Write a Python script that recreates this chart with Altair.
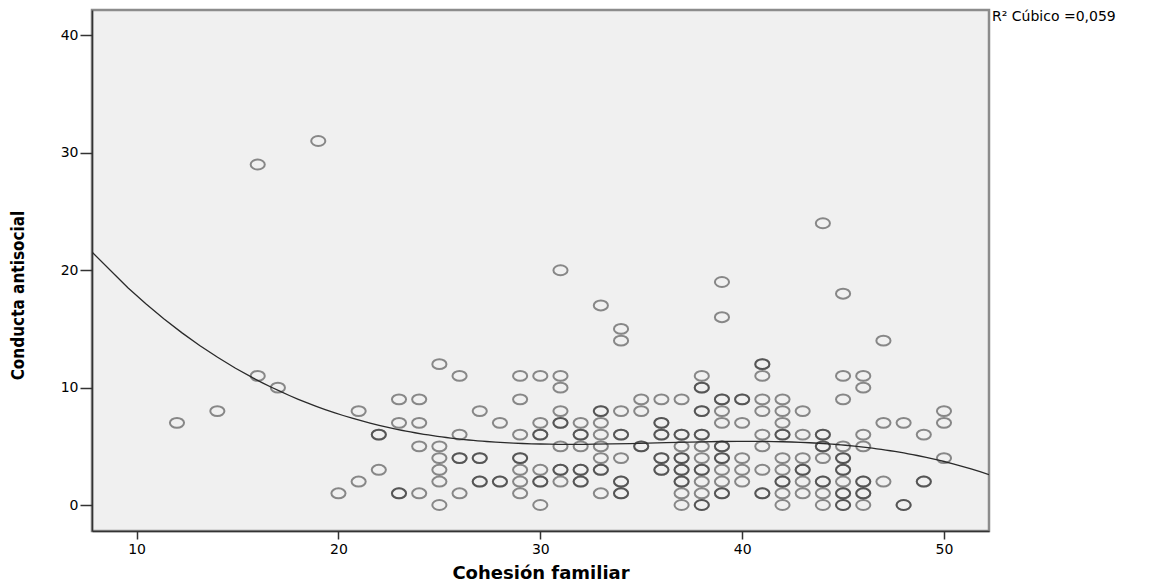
import altair as alt
import pandas as pd

# ---- data ----
cohesion = [
    12,
    14,
    16, 16,
    17,
    19,
    20,
    21, 21,
    22, 22, 22,
    23, 23, 23, 23,
    24, 24, 24, 24,
    25, 25, 25, 25, 25, 25,
    26, 26, 26, 26, 26,
    27, 27, 27, 27, 27,
    28, 28, 28,
    29, 29, 29, 29, 29, 29, 29, 29,
    30, 30, 30, 30, 30, 30, 30, 30,
    31, 31, 31, 31, 31, 31, 31, 31, 31, 31,
    32, 32, 32, 32, 32, 32, 32, 32,
    33, 33, 33, 33, 33, 33, 33, 33, 33, 33,
    34, 34, 34, 34, 34, 34, 34, 34, 34, 34,
    35, 35, 35, 35,
    36, 36, 36, 36, 36, 36, 36, 36, 36,
    37, 37, 37, 37, 37, 37, 37, 37, 37, 37, 37, 37,
    38, 38, 38, 38, 38, 38, 38, 38, 38, 38, 38, 38, 38, 38, 38,
    39, 39, 39, 39, 39, 39, 39, 39, 39, 39, 39, 39, 39, 39,
    40, 40, 40, 40, 40, 40,
    41, 41, 41, 41, 41, 41, 41, 41, 41, 41,
    42, 42, 42, 42, 42, 42, 42, 42, 42, 42, 42,
    43, 43, 43, 43, 43, 43, 43,
    44, 44, 44, 44, 44, 44, 44, 44, 44, 44,
    45, 45, 45, 45, 45, 45, 45, 45, 45, 45, 45, 45, 45,
    46, 46, 46, 46, 46, 46, 46, 46, 46,
    47, 47, 47,
    48, 48, 48,
    49, 49, 49,
    50, 50, 50,
]
conducta = [
    7,
    8,
    29, 11,
    10,
    31,
    1,
    8, 2,
    6, 6, 3,
    9, 7, 1, 1,
    9, 7, 5, 1,
    12, 5, 4, 3, 2, 0,
    11, 6, 4, 4, 1,
    8, 4, 4, 2, 2,
    7, 2, 2,
    11, 9, 6, 4, 4, 3, 2, 1,
    11, 7, 6, 6, 3, 2, 2, 0,
    20, 11, 10, 8, 7, 7, 5, 3, 3, 2,
    7, 6, 6, 5, 3, 3, 2, 2,
    17, 8, 8, 7, 6, 5, 4, 3, 3, 1,
    15, 14, 8, 6, 6, 4, 2, 2, 1, 1,
    9, 8, 5, 5,
    9, 7, 7, 6, 6, 4, 4, 3, 3,
    9, 6, 6, 5, 4, 4, 3, 3, 2, 2, 1, 0,
    11, 10, 10, 8, 8, 6, 6, 5, 4, 3, 3, 2, 1, 0, 0,
    19, 16, 9, 9, 8, 7, 5, 5, 4, 4, 3, 2, 1, 1,
    9, 9, 7, 4, 3, 2,
    12, 12, 11, 9, 8, 6, 5, 3, 1, 1,
    9, 8, 7, 6, 6, 4, 3, 2, 2, 1, 0,
    8, 6, 4, 3, 3, 2, 1,
    24, 6, 6, 5, 5, 4, 2, 2, 1, 0,
    18, 11, 9, 5, 4, 4, 3, 3, 2, 1, 1, 0, 0,
    11, 10, 6, 5, 2, 2, 1, 1, 0,
    14, 7, 2,
    7, 0, 0,
    6, 2, 2,
    8, 7, 4,
]
assert len(cohesion) == len(conducta)

x_ticks = [10, 20, 30, 40, 50]
y_ticks = [0, 10, 20, 30, 40]
x_domain = [7.79, 52.23]
y_domain = [-2.21, 42.16]
x_title = "Cohesión familiar"
y_title = "Conducta antisocial"
fit_label = ["R² Cúbico =0,059"]

df = pd.DataFrame({"cohesion": cohesion, "conducta": conducta})

ELLIPSE = "M-1,0A1,0.7,0,1,1,1,0A1,0.7,0,1,1,-1,0Z"

xscale = alt.Scale(domain=x_domain, nice=False, zero=False)
yscale = alt.Scale(domain=y_domain, nice=False, zero=False)

x_enc = alt.X(
    "cohesion:Q", scale=xscale,
    axis=alt.Axis(values=x_ticks, title=x_title, grid=False, tickSize=8,
                  labelPadding=3, titlePadding=8, format="d",
                  titleFontSize=18),
)
y_enc = alt.Y(
    "conducta:Q", scale=yscale,
    axis=alt.Axis(values=y_ticks, title=y_title, grid=False, tickSize=12,
                  labelPadding=2, format="d", titleX=-74, titleY=285,
                  titleAlign="center", titleBaseline="middle", titleAngle=270,
                  titleFont="DejaVu Sans Condensed", titleFontSize=17),
)

base = alt.Chart(df)

points = base.mark_point(
    shape=ELLIPSE, size=200, filled=False, stroke="#2a2a2a",
    strokeWidth=2.0, strokeOpacity=0.75,
).encode(x=x_enc, y=y_enc)

fit = base.transform_regression(
    "cohesion", "conducta", method="poly", order=3, extent=x_domain
).mark_line(color="#2a2a2a", strokeWidth=1.3, clip=True).encode(x=x_enc, y=y_enc)

label = alt.Chart(pd.DataFrame({"t": fit_label})).mark_text(
    align="left", baseline="alphabetic", font="DejaVu Sans",
    fontSize=14, color="black",
).encode(x=alt.value(900), y=alt.value(11), text="t:N")

chart = alt.layer(points, fit, label).properties(
    width=897, height=521,
    padding={"left": 84, "top": 2, "right": 162, "bottom": 56},
    autosize=alt.AutoSizeParams(type="none"),
).configure_view(
    fill="#f0f0f0", stroke="#8c8c8c", strokeWidth=2.5,
).configure_axis(
    domainColor="#333333", domainWidth=1.5, tickColor="#333333", tickWidth=1.5,
    labelFont="DejaVu Sans", labelFontSize=14, labelColor="#000000",
    titleFont="DejaVu Sans", titleFontSize=16, titleFontWeight="bold",
    titleColor="#000000",
)

chart.save("out.html", embed_options={"renderer": "svg", "actions": False})
